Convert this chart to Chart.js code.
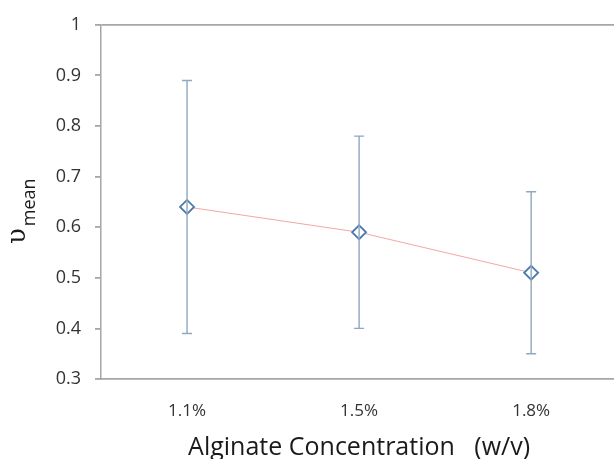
<!DOCTYPE html>
<html>
<head>
<meta charset="utf-8">
<script src="https://cdn.jsdelivr.net/npm/chart.js@4"></script>
<style>
  html, body { margin: 0; background: #fff; overflow: hidden; }
  #wrap { width: 626px; height: 459px; }
</style>
</head>
<body>
<div id="wrap"><canvas id="chart"></canvas></div>
<script>
const categories = ["1.1%", "1.5%", "1.8%"];
const meanValues = [0.64, 0.59, 0.51];
const errLow = [0.39, 0.40, 0.35];
const errHigh = [0.89, 0.78, 0.67];
const yTicks = [0.3, 0.4, 0.5, 0.6, 0.7, 0.8, 0.9, 1];

// error bars with caps
const errorBars = {
  id: "errorBars",
  afterDatasetsDraw(chart) {
    let ctx = chart.ctx;
    let x = chart.scales.x;
    let y = chart.scales.y;
    ctx.save();
    ctx.strokeStyle = "#8fa7bf";
    ctx.lineWidth = 1.4;
    for (let i = 0; i < categories.length; i++) {
      let px = x.getPixelForValue(i);
      let top = y.getPixelForValue(errHigh[i]);
      let bot = y.getPixelForValue(errLow[i]);
      ctx.beginPath();
      ctx.moveTo(px, top);
      ctx.lineTo(px, bot);
      ctx.moveTo(px - 5, top);
      ctx.lineTo(px + 5, top);
      ctx.moveTo(px - 5, bot);
      ctx.lineTo(px + 5, bot);
      ctx.stroke();
    }
    ctx.restore();
  }
};

// y axis title: upsilon with "mean" subscript
const yTitle = {
  id: "yTitle",
  afterDraw(chart) {
    let ctx = chart.ctx;
    ctx.save();
    ctx.translate(25, 244);
    ctx.rotate(-Math.PI / 2);
    ctx.fillStyle = "#1a1a1a";
    ctx.textBaseline = "alphabetic";
    ctx.font = "26px 'DejaVu Serif'";
    let w1 = ctx.measureText("\u03c5").width;
    ctx.fillText("\u03c5", 0, 0);
    ctx.font = "18px 'Open Sans'";
    ctx.fillText("mean", w1 + 2, 10);
    ctx.restore();
  }
};

new Chart(document.getElementById("chart"), {
  type: "line",
  data: {
    labels: categories,
    datasets: [
      {
        data: meanValues,
        borderColor: "#f2a7a3",
        borderWidth: 1,
        pointStyle: "rectRot",
        pointRadius: 7,
        pointBorderWidth: 1.8,
        pointBorderColor: "#4f7bab",
        pointBackgroundColor: "#ffffff",
        tension: 0
      }
    ]
  },
  options: {
    responsive: true,
    maintainAspectRatio: false,
    animation: false,
    layout: { padding: { top: 22, right: 0, left: 0, bottom: 0 } },
    plugins: {
      legend: { display: false },
      tooltip: { enabled: false }
    },
    scales: {
      x: {
        offset: true,
        grid: { display: false, drawTicks: false },
        border: { color: "#a6a6a6", width: 1.8 },
        ticks: {
          color: "#333333",
          font: { family: "Open Sans", size: 17 },
          padding: 22
        },
        title: {
          display: true,
          text: "Alginate Concentration   (w/v)",
          color: "#1a1a1a",
          font: { family: "Open Sans", size: 25, lineHeight: 0.9 },
          padding: { top: 2, bottom: 0 }
        },
        afterFit(axis) { axis.height = 80; }
      },
      y: {
        min: 0.3,
        max: 1,
        afterBuildTicks(axis) {
          axis.ticks = yTicks.map(v => ({ value: v }));
        },
        grid: {
          color: ctx => (ctx.tick && ctx.tick.value === 1 ? "#a6a6a6" : "transparent"),
          tickColor: "#a6a6a6",
          tickLength: 6,
          lineWidth: 1.8
        },
        border: { color: "#a6a6a6", width: 1.5 },
        ticks: {
          color: "#333333",
          font: { family: "Open Sans", size: 18 },
          padding: 14,
          callback: v => String(Math.round(v * 10) / 10)
        },
        afterFit(axis) { axis.width = 101; }
      }
    }
  },
  plugins: [errorBars, yTitle]
});
</script>
</body>
</html>
